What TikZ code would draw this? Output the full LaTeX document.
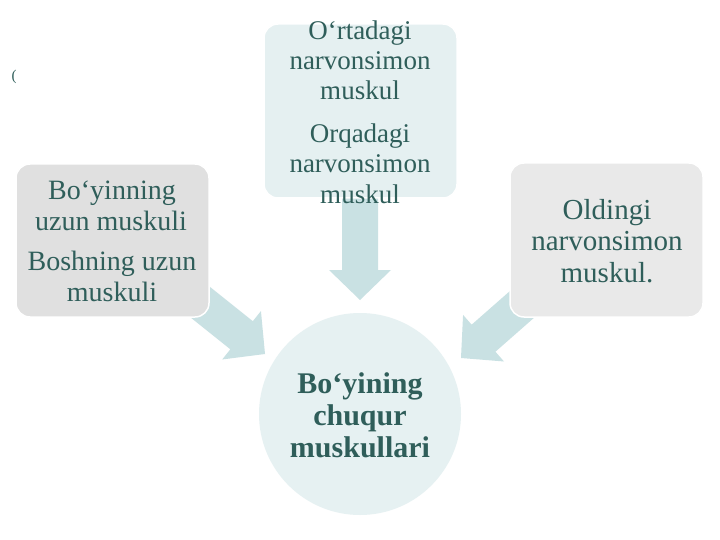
\documentclass[tikz,border=0pt]{standalone}
\usepackage{fontspec}
\setmainfont{Liberation Serif}
\usetikzlibrary{calc}
\definecolor{textc}{RGB}{47,94,90}
\definecolor{arrowc}{RGB}{201,225,227}
\definecolor{lboxc}{RGB}{224,224,224}
\definecolor{rboxc}{RGB}{233,233,233}
\definecolor{tboxc}{RGB}{229,240,241}
\definecolor{circc}{RGB}{230,241,242}
\tikzset{
  boxshape/.style={draw=white, line width=1.5pt, rounded corners=14pt},
  txt/.style={text=textc, anchor=base, inner sep=0pt},
  fsa/.style={font=\fontsize{28}{30}\selectfont},
  fsb/.style={font=\fontsize{27}{30}\selectfont},
  fsc/.style={font=\fontsize{29}{31}\selectfont},
  fsd/.style={font=\fontsize{30}{32}\selectfont\bfseries},
  arrowshape/.style={fill=arrowc, draw=none}
}
\newcommand{\blockarrow}[2]{%
  \fill[arrowshape]
    ($(#1)!18pt!90:(#2)$) --
    ($($(#2)!30pt!(#1)$)!18pt!-90:(#1)$) --
    ($($(#2)!30pt!(#1)$)!31pt!-90:(#1)$) --
    (#2) --
    ($($(#2)!30pt!(#1)$)!31pt!90:(#1)$) --
    ($($(#2)!30pt!(#1)$)!18pt!90:(#1)$) --
    ($(#1)!18pt!-90:(#2)$) -- cycle;}
\begin{document}
\begin{tikzpicture}[x=1pt,y=-1pt]
\useasboundingbox (0,0) rectangle (720,540);
\fill[white] (0,0) rectangle (720,540);

% arrow end points
\coordinate (dA) at (360,190);
\coordinate (dB) at (360,300);
\coordinate (lA) at (195,298);
\coordinate (lB) at (265,354);
\coordinate (rA) at (527,300);
\coordinate (rB) at (461,358);
\blockarrow{dA}{dB}
\blockarrow{lA}{lB}
\blockarrow{rA}{rB}

% boxes
\path[boxshape, fill=lboxc] (16,164) rectangle (209,317);
\path[boxshape, fill=tboxc] (264,24) rectangle (457,198);
\path[boxshape, fill=rboxc] (510,163) rectangle (703,317);
\node[circle, fill=circc, draw=none, minimum size=202pt, inner sep=0pt] (circ) at (360,414) {};

% stray mark
\node[txt, font=\fontsize{15}{16}\selectfont] (mark) at (14,81) {(};

% left box text
\node[txt, fsa] (l1) at (112,200) {Bo‘yinning};
\node[txt, fsa] (l2) at (111,230) {uzun muskuli};
\node[txt, fsa] (l3) at (112,270) {Boshning uzun};
\node[txt, fsa] (l4) at (112,301) {muskuli};

% top box text
\node[txt, fsb] (t1) at (360,40) {O‘rtadagi};
\node[txt, fsb] (t2) at (360,70) {narvonsimon};
\node[txt, fsb] (t3) at (360,100) {muskul};
\node[txt, fsb] (t4) at (360,143) {Orqadagi};
\node[txt, fsb] (t5) at (360,173) {narvonsimon};
\node[txt, fsb] (t6) at (360,204) {muskul};

% right box text
\node[txt, fsc] (r1) at (607,220) {Oldingi};
\node[txt, fsc] (r2) at (607,251) {narvonsimon};
\node[txt, fsc] (r3) at (607,282) {muskul.};

% circle text
\node[txt, fsd] (c1) at (360,393) {Bo‘yining};
\node[txt, fsd] (c2) at (360,425) {chuqur};
\node[txt, fsd] (c3) at (360,457) {muskullari};
\end{tikzpicture}
\end{document}
